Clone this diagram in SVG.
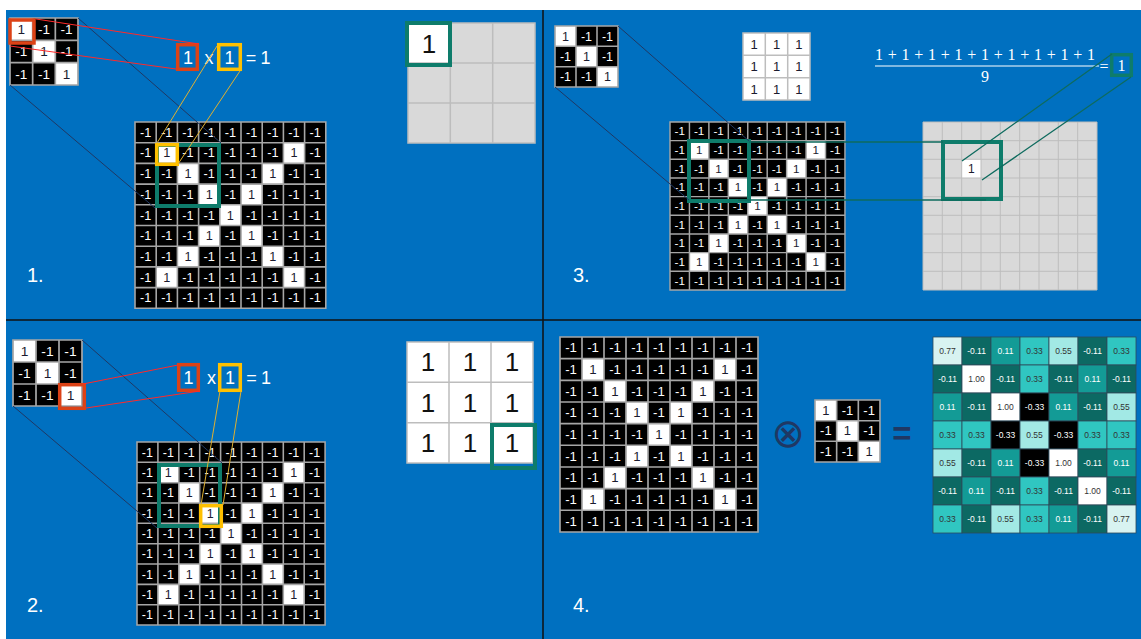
<svg xmlns="http://www.w3.org/2000/svg" width="1141" height="639" viewBox="0 0 1141 639">
<style>
text{font-family:"Liberation Sans",Arial,sans-serif}
.cell{font-size:12px;text-anchor:middle}
.n{fill:#fff}
.p{fill:#1b1b2f}
.gl{fill:none;stroke:#a6a6a6;stroke-width:1.5}
.wt{fill:#fff}
.lbl{fill:#fff;font-size:20px}
.op{fill:#fff;font-size:18px;text-anchor:middle}
.red{fill:none;stroke:#dc4216;stroke-width:3.5}
.org{fill:none;stroke:#ffc000;stroke-width:3.5}
.grn{fill:none;stroke:#0e7c6b;stroke-width:4}
.rl{stroke:#ff2a2a;stroke-width:1;fill:none}
.ol{stroke:#e0b030;stroke-width:1;fill:none}
.dl{stroke:#1f3864;stroke-width:1;fill:none}
.gln{stroke:#0e6b5e;stroke-width:1.3;fill:none}
.div{stroke:#111;stroke-width:1.5;fill:none}
.gray{fill:#d9d9d9}
.gline{fill:none;stroke:#bdbdbd;stroke-width:1.5}
.big{font-size:26px;text-anchor:middle;fill:#111}
.serif{font-family:"Liberation Serif","DejaVu Serif",serif;fill:#fff;font-size:16px}
.m{font-size:8.5px;text-anchor:middle}
.tk{fill:#333}
.tw{fill:#fff}
.mc{stroke:#2d4a5a;stroke-width:0.8}
.ca{fill:#d8f3f1}.cb{fill:#0c6963}.cc{fill:#139b96}.cd{fill:#30c6c1}.ce{fill:#a2e9e5}.cf{fill:#fff}.cg{fill:#000}
</style>
<defs>
<g id="r0" class="cell"><text class="n" x="10" y="14.3">-1</text><text class="n" x="30" y="14.3">-1</text><text class="n" x="50" y="14.3">-1</text><text class="n" x="70" y="14.3">-1</text><text class="n" x="90" y="14.3">-1</text><text class="n" x="110" y="14.3">-1</text><text class="n" x="130" y="14.3">-1</text><text class="n" x="150" y="14.3">-1</text><text class="n" x="170" y="14.3">-1</text></g>
<g id="r1" class="cell"><rect class="wt" x="20" width="20" height="20"/><rect class="wt" x="140" width="20" height="20"/><text class="n" x="10" y="14.3">-1</text><text class="p" x="30" y="14.3">1</text><text class="n" x="50" y="14.3">-1</text><text class="n" x="70" y="14.3">-1</text><text class="n" x="90" y="14.3">-1</text><text class="n" x="110" y="14.3">-1</text><text class="n" x="130" y="14.3">-1</text><text class="p" x="150" y="14.3">1</text><text class="n" x="170" y="14.3">-1</text></g>
<g id="r2" class="cell"><rect class="wt" x="40" width="20" height="20"/><rect class="wt" x="120" width="20" height="20"/><text class="n" x="10" y="14.3">-1</text><text class="n" x="30" y="14.3">-1</text><text class="p" x="50" y="14.3">1</text><text class="n" x="70" y="14.3">-1</text><text class="n" x="90" y="14.3">-1</text><text class="n" x="110" y="14.3">-1</text><text class="p" x="130" y="14.3">1</text><text class="n" x="150" y="14.3">-1</text><text class="n" x="170" y="14.3">-1</text></g>
<g id="r3" class="cell"><rect class="wt" x="60" width="20" height="20"/><rect class="wt" x="100" width="20" height="20"/><text class="n" x="10" y="14.3">-1</text><text class="n" x="30" y="14.3">-1</text><text class="n" x="50" y="14.3">-1</text><text class="p" x="70" y="14.3">1</text><text class="n" x="90" y="14.3">-1</text><text class="p" x="110" y="14.3">1</text><text class="n" x="130" y="14.3">-1</text><text class="n" x="150" y="14.3">-1</text><text class="n" x="170" y="14.3">-1</text></g>
<g id="r4" class="cell"><rect class="wt" x="80" width="20" height="20"/><text class="n" x="10" y="14.3">-1</text><text class="n" x="30" y="14.3">-1</text><text class="n" x="50" y="14.3">-1</text><text class="n" x="70" y="14.3">-1</text><text class="p" x="90" y="14.3">1</text><text class="n" x="110" y="14.3">-1</text><text class="n" x="130" y="14.3">-1</text><text class="n" x="150" y="14.3">-1</text><text class="n" x="170" y="14.3">-1</text></g>
<g id="X9">
<rect width="180" height="180" fill="#000"/>
<use href="#r0" y="0"/><use href="#r1" y="20"/><use href="#r2" y="40"/><use href="#r3" y="60"/><use href="#r4" y="80"/><use href="#r3" y="100"/><use href="#r2" y="120"/><use href="#r1" y="140"/><use href="#r0" y="160"/>
<path class="gl" d="M0 0H180V180H0Z M20 0V180M40 0V180M60 0V180M80 0V180M100 0V180M120 0V180M140 0V180M160 0V180 M0 20H180M0 40H180M0 60H180M0 80H180M0 100H180M0 120H180M0 140H180M0 160H180"/>
</g>
<g id="K3" class="cell">
<rect width="60" height="60" fill="#000"/>
<rect class="wt" width="20" height="20"/><rect class="wt" x="20" y="20" width="20" height="20"/><rect class="wt" x="40" y="40" width="20" height="20"/>
<text class="p" x="10" y="14.3">1</text><text class="n" x="30" y="14.3">-1</text><text class="n" x="50" y="14.3">-1</text>
<text class="n" x="10" y="34.3">-1</text><text class="p" x="30" y="34.3">1</text><text class="n" x="50" y="34.3">-1</text>
<text class="n" x="10" y="54.3">-1</text><text class="n" x="30" y="54.3">-1</text><text class="p" x="50" y="54.3">1</text>
<path class="gl" d="M0 0H60V60H0Z M20 0V60M40 0V60M0 20H60M0 40H60"/>
</g>
<g id="v77" class="m"><rect class="ca mc" width="29" height="28"/><text class="tk" x="14.5" y="17">0.77</text></g>
<g id="vm11" class="m"><rect class="cb mc" width="29" height="28"/><text class="tw" x="14.5" y="17">-0.11</text></g>
<g id="v11" class="m"><rect class="cc mc" width="29" height="28"/><text class="tw" x="14.5" y="17">0.11</text></g>
<g id="v33" class="m"><rect class="cd mc" width="29" height="28"/><text class="tk" x="14.5" y="17">0.33</text></g>
<g id="v55" class="m"><rect class="ce mc" width="29" height="28"/><text class="tk" x="14.5" y="17">0.55</text></g>
<g id="v100" class="m"><rect class="cf mc" width="29" height="28"/><text class="tk" x="14.5" y="17">1.00</text></g>
<g id="vm33" class="m"><rect class="cg mc" width="29" height="28"/><text class="tw" x="14.5" y="17">-0.33</text></g>
</defs>

<rect width="1141" height="639" fill="#fff"/>
<rect x="6" y="10" width="1135" height="629" fill="#0070c0"/>

<g id="dividers">
<path class="div" d="M543 10V639M6 320H1141"/>
</g>

<!-- Panel 1 -->
<g id="p1-kernel"><use href="#K3" transform="translate(10,18) scale(1.133,1.117)"/><rect class="red" x="10" y="20" width="24" height="23"/></g>
<g id="p1-product">
<rect class="red" x="177.7" y="44.7" width="19.6" height="24.6"/>
<rect class="org" x="218.7" y="44.7" width="21.6" height="24.6"/>
<text class="op" x="188" y="63.5">1</text><text class="op" x="209" y="63.5">x</text><text class="op" x="229.5" y="63.5">1</text><text class="op" x="251" y="63.5">=</text><text class="op" x="265.5" y="63.5">1</text>
</g>
<g id="p1-image"><use href="#X9" transform="translate(135,122) scale(1.06,1.035)"/>
<rect class="grn" x="157" y="145" width="62" height="61"/>
<rect class="org" x="156.7" y="144.7" width="20.6" height="19.6"/></g>
<g id="p1-output">
<rect class="gray" x="408" y="23" width="127" height="120"/>
<rect fill="#fff" x="408" y="23" width="42.3" height="40"/>
<path class="gline" d="M408 23H535V143H408Z M450.3 23V143M492.7 23V143M408 63H535M408 103H535"/>
<text class="big" x="429" y="52.5">1</text>
<rect class="grn" x="407" y="23" width="43" height="42"/>
</g>
<text id="p1-label" class="lbl" x="27" y="282">1.</text>

<!-- Panel 2 -->
<g id="p2-kernel"><use href="#K3" transform="translate(13,340) scale(1.15,1.1)"/><rect class="red" x="59.7" y="384.7" width="24.6" height="23.6"/></g>
<g id="p2-product">
<rect class="red" x="178.7" y="364.7" width="19.6" height="25.6"/>
<rect class="org" x="219.7" y="364.7" width="20.6" height="25.6"/>
<text class="op" x="188.5" y="383.5">1</text><text class="op" x="211.5" y="383.5">x</text><text class="op" x="230" y="383.5">1</text><text class="op" x="251.5" y="383.5">=</text><text class="op" x="266" y="383.5">1</text>
</g>
<g id="p2-image"><use href="#X9" transform="translate(137,442) scale(1.045,1.017)"/>
<rect class="grn" x="159" y="465" width="61" height="61"/>
<rect class="org" x="200.7" y="505.7" width="20.6" height="20.6"/></g>
<g id="p2-output">
<rect fill="#fff" x="407" y="342" width="126" height="121"/>
<path class="gline" d="M407 342H533V463H407Z M449 342V463M491 342V463M407 382.3H533M407 422.7H533"/>
<text class="big" x="428" y="371">1</text><text class="big" x="470" y="371">1</text><text class="big" x="512" y="371">1</text>
<text class="big" x="428" y="411.5">1</text><text class="big" x="470" y="411.5">1</text><text class="big" x="512" y="411.5">1</text>
<text class="big" x="428" y="452">1</text><text class="big" x="470" y="452">1</text><text class="big" x="512" y="452">1</text>
<rect class="grn" x="492" y="425" width="43" height="43"/>
</g>
<text id="p2-label" class="lbl" x="27" y="612">2.</text>

<!-- Panel 3 -->
<g id="p3-kernel"><use href="#K3" transform="translate(555,26) scale(1.05,1.017)"/></g>
<g id="p3-ones">
<rect fill="#fff" x="743" y="33" width="67" height="67"/>
<path class="gline" d="M743 33H810V100H743Z M765.3 33V100M787.7 33V100M743 55.3H810M743 77.7H810"/>
<g class="cell" style="font-size:13px">
<text class="p" x="754.2" y="48.5">1</text><text class="p" x="776.5" y="48.5">1</text><text class="p" x="798.8" y="48.5">1</text>
<text class="p" x="754.2" y="71">1</text><text class="p" x="776.5" y="71">1</text><text class="p" x="798.8" y="71">1</text>
<text class="p" x="754.2" y="93.5">1</text><text class="p" x="776.5" y="93.5">1</text><text class="p" x="798.8" y="93.5">1</text>
</g>
</g>
<g id="p3-average">
<text class="serif" x="875" y="60" textLength="220" lengthAdjust="spacing">1 + 1 + 1 + 1 + 1 + 1 + 1 + 1 + 1</text>
<path d="M875 66H1099" stroke="#fff" stroke-width="1.2"/>
<text class="serif" x="985" y="82" text-anchor="middle">9</text>
<text class="serif" x="1104" y="71.5" text-anchor="middle">=</text>
<rect class="grn" x="1111.7" y="54.7" width="19.6" height="20.6" style="stroke-width:3.5"/>
<text class="serif" x="1121.5" y="71" text-anchor="middle">1</text>
</g>
<g id="p3-image"><use href="#X9" transform="translate(670,122) scale(0.972,0.933)"/>
<rect class="grn" x="689" y="141" width="60" height="60"/></g>
<g id="p3-output">
<rect class="gray" x="923" y="122" width="174" height="168"/>
<rect fill="#fff" x="961.7" y="159.3" width="19.3" height="18.7"/>
<path class="gline" style="stroke-width:1" d="M923 122H1097V290H923Z M942.3 122V290M961.7 122V290M981 122V290M1000.3 122V290M1019.7 122V290M1039 122V290M1058.3 122V290M1077.7 122V290 M923 140.7H1097M923 159.3H1097M923 178H1097M923 196.7H1097M923 215.3H1097M923 234H1097M923 252.7H1097M923 271.3H1097"/>
<text class="cell p" x="971.3" y="173">1</text>
<rect class="grn" x="943" y="142" width="58" height="57"/>
</g>
<text id="p3-label" class="lbl" x="573" y="282">3.</text>

<!-- Panel 4 -->
<g id="p4-image"><use href="#X9" transform="translate(560,337) scale(1.1,1.083)"/></g>
<text id="p4-conv" x="788" y="447" text-anchor="middle" style="font-family:'DejaVu Sans',sans-serif;font-size:40px;fill:#1f3864">⊗</text>
<g id="p4-kernel"><use href="#K3" transform="translate(815,400) scale(1.083,1.033)"/></g>
<text id="p4-eq" x="902" y="445" text-anchor="middle" style="font-size:33px;font-weight:bold;fill:#1f3864">=</text>
<g id="p4-result" transform="translate(933,337)">
<use href="#v77" x="0" y="0"/><use href="#vm11" x="29" y="0"/><use href="#v11" x="58" y="0"/><use href="#v33" x="87" y="0"/><use href="#v55" x="116" y="0"/><use href="#vm11" x="145" y="0"/><use href="#v33" x="174" y="0"/>
<use href="#vm11" x="0" y="28"/><use href="#v100" x="29" y="28"/><use href="#vm11" x="58" y="28"/><use href="#v33" x="87" y="28"/><use href="#vm11" x="116" y="28"/><use href="#v11" x="145" y="28"/><use href="#vm11" x="174" y="28"/>
<use href="#v11" x="0" y="56"/><use href="#vm11" x="29" y="56"/><use href="#v100" x="58" y="56"/><use href="#vm33" x="87" y="56"/><use href="#v11" x="116" y="56"/><use href="#vm11" x="145" y="56"/><use href="#v55" x="174" y="56"/>
<use href="#v33" x="0" y="84"/><use href="#v33" x="29" y="84"/><use href="#vm33" x="58" y="84"/><use href="#v55" x="87" y="84"/><use href="#vm33" x="116" y="84"/><use href="#v33" x="145" y="84"/><use href="#v33" x="174" y="84"/>
<use href="#v55" x="0" y="112"/><use href="#vm11" x="29" y="112"/><use href="#v11" x="58" y="112"/><use href="#vm33" x="87" y="112"/><use href="#v100" x="116" y="112"/><use href="#vm11" x="145" y="112"/><use href="#v11" x="174" y="112"/>
<use href="#vm11" x="0" y="140"/><use href="#v11" x="29" y="140"/><use href="#vm11" x="58" y="140"/><use href="#v33" x="87" y="140"/><use href="#vm11" x="116" y="140"/><use href="#v100" x="145" y="140"/><use href="#vm11" x="174" y="140"/>
<use href="#v33" x="0" y="168"/><use href="#vm11" x="29" y="168"/><use href="#v55" x="58" y="168"/><use href="#v33" x="87" y="168"/><use href="#v11" x="116" y="168"/><use href="#vm11" x="145" y="168"/><use href="#v77" x="174" y="168"/>
</g>
<text id="p4-label" class="lbl" x="573" y="612">4.</text>

<g id="connectors">
<path class="dl" d="M78 18L221 143M10 85L155 208"/>
<path class="rl" d="M36 19L199 44M10 46L176 69"/>
<path class="ol" d="M217 46L157 143M240 71L178 164"/>
<path class="dl" d="M82 340L222 463M13 406L157 528"/>
<path class="rl" d="M83 384L178 365M86 408L200 391"/>
<path class="ol" d="M220 391L201 505M241 391L223 505"/>
<path class="dl" d="M618 26L749 141M555 87L689 200"/>
<path class="gln" d="M749 142L943 142M738 200L986 200M962 161L1112 54M982 180L1131 77"/>
</g>
</svg>
